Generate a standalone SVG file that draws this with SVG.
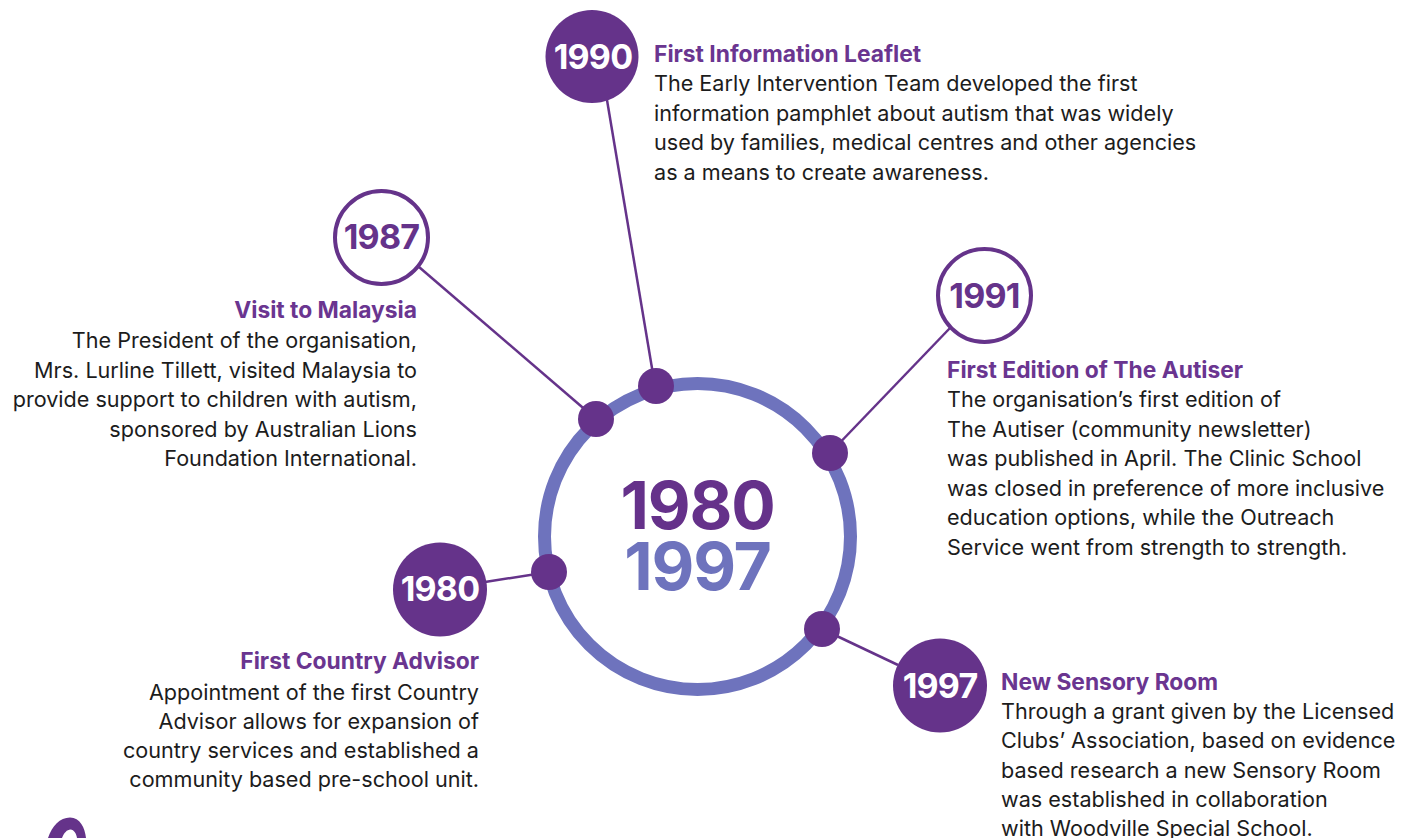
<svg xmlns="http://www.w3.org/2000/svg" width="1416" height="838" viewBox="0 0 1416 838">
<style>
.bg{fill:#ffffff}
.ring{fill:none;stroke:#6e73bd;stroke-width:13}
.dot{fill:#65338a}
.conn{stroke:#65338a;stroke-width:2.5;fill:none}
.yfill{fill:#65338a}
.yout{fill:#ffffff;stroke:#65338a;stroke-width:4}
.ylab{font-family:Inter,Roboto,"Liberation Sans",sans-serif;font-weight:700;font-size:34px;text-anchor:middle;letter-spacing:-0.8px}
.w{fill:#ffffff}
.p{fill:#65338a}
.head{font-family:Inter,Roboto,"Liberation Sans",sans-serif;font-weight:700;font-size:22.8px;fill:#6a3590}
.body{font-family:Inter,Roboto,"Liberation Sans",sans-serif;font-weight:400;font-size:21.6px;fill:#1c1c1c}
.r{text-anchor:end}
.big{font-family:Inter,Roboto,"Liberation Sans",sans-serif;font-weight:700;font-size:66px;text-anchor:middle;letter-spacing:-1.2px}
</style>
<rect class="bg" x="0" y="0" width="1416" height="838"/>

<g id="connectors">
<line class="conn" x1="607" y1="100" x2="655" y2="386"/>
<line class="conn" x1="419" y1="267" x2="596" y2="419"/>
<line class="conn" x1="950" y1="328" x2="830" y2="453"/>
<line class="conn" x1="485" y1="582" x2="549" y2="572"/>
<line class="conn" x1="822" y1="629" x2="898" y2="665"/>
</g>

<g id="center">
<circle class="ring" cx="697.5" cy="536.5" r="153"/>
<text class="big" x="697.5" y="529" fill="#65318a">1980</text>
<text class="big" x="697.5" y="590" fill="#6e73bd">1997</text>
<circle class="dot" cx="656" cy="386" r="18"/>
<circle class="dot" cx="596" cy="419" r="18"/>
<circle class="dot" cx="830" cy="453" r="18"/>
<circle class="dot" cx="549" cy="572" r="18"/>
<circle class="dot" cx="822" cy="629" r="18"/>
</g>

<g id="n1990">
<circle class="yfill" cx="592" cy="56.5" r="46.5"/>
<text class="ylab w" x="593" y="68.5">1990</text>
<text class="head" x="654" y="62">First Information Leaflet</text>
<text class="body" x="654" y="91">The Early Intervention Team developed the first</text>
<text class="body" x="654" y="120.5">information pamphlet about autism that was widely</text>
<text class="body" x="654" y="150">used by families, medical centres and other agencies</text>
<text class="body" x="654" y="179.5">as a means to create awareness.</text>
</g>

<g id="n1987">
<circle class="yout" cx="381.5" cy="237.5" r="46.5"/>
<text class="ylab p" x="381.5" y="249">1987</text>
<text class="head r" x="417" y="318">Visit to Malaysia</text>
<text class="body r" x="417" y="348">The President of the organisation,</text>
<text class="body r" x="417" y="377.5">Mrs. Lurline Tillett, visited Malaysia to</text>
<text class="body r" x="417" y="407">provide support to children with autism,</text>
<text class="body r" x="417" y="436.5">sponsored by Australian Lions</text>
<text class="body r" x="417" y="466">Foundation International.</text>
</g>

<g id="n1991">
<circle class="yout" cx="984.5" cy="295.5" r="46.5"/>
<text class="ylab p" x="984.5" y="307.5">1991</text>
<text class="head" x="947" y="378">First Edition of The Autiser</text>
<text class="body" x="947" y="407">The organisation’s first edition of</text>
<text class="body" x="947" y="436.5">The Autiser (community newsletter)</text>
<text class="body" x="947" y="466">was published in April. The Clinic School</text>
<text class="body" x="947" y="495.5">was closed in preference of more inclusive</text>
<text class="body" x="947" y="525">education options, while the Outreach</text>
<text class="body" x="947" y="554.5">Service went from strength to strength.</text>
</g>

<g id="n1980">
<circle class="yfill" cx="440" cy="589.5" r="47"/>
<text class="ylab w" x="440" y="601">1980</text>
<text class="head r" x="479" y="669">First Country Advisor</text>
<text class="body r" x="479" y="700">Appointment of the first Country</text>
<text class="body r" x="479" y="729">Advisor allows for expansion of</text>
<text class="body r" x="479" y="758">country services and established a</text>
<text class="body r" x="479" y="787">community based pre-school unit.</text>
</g>

<g id="n1997">
<circle class="yfill" cx="940" cy="685.5" r="47"/>
<text class="ylab w" x="940" y="697.5">1997</text>
<text class="head" x="1001" y="690">New Sensory Room</text>
<text class="body" x="1001" y="719">Through a grant given by the Licensed</text>
<text class="body" x="1001" y="748">Clubs’ Association, based on evidence</text>
<text class="body" x="1001" y="777.5">based research a new Sensory Room</text>
<text class="body" x="1001" y="806.5">was established in collaboration</text>
<text class="body" x="1001" y="835.5">with Woodville Special School.</text>
</g>

<g id="logo-fragment">
<path fill="#65338a" fill-rule="evenodd" d="M48,838 C52,826 60,817.5 70,817.5 C80,817.5 85,828 86,838 Z M62,838 C64,833 67,829.5 70.5,829.5 C74,829.5 76.5,834 77,838 Z"/>
</g>
</svg>
